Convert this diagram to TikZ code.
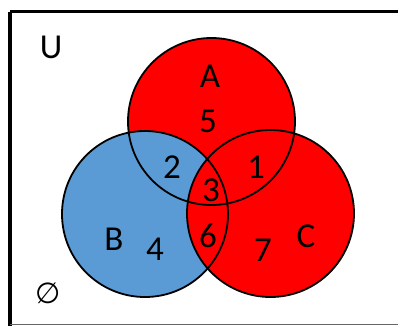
\documentclass[tikz,border=0pt]{standalone}
\usepackage{fontspec}
\setmainfont{Carlito}
\newfontfamily\symfont{DejaVu Sans}
\definecolor{setred}{HTML}{FF0000}
\definecolor{setblue}{HTML}{5B9BD5}
\begin{document}
\begin{tikzpicture}[x=1pt,y=-1pt,
  setline/.style={draw=black,line width=1.8pt},
  lbl/.style={inner sep=0pt,font=\fontsize{35}{35}\selectfont}]
\useasboundingbox (0,0) rectangle (398,325);
\begin{scope}
\clip (0,0) rectangle (398,325);
% universe frame
\draw[line width=3.5pt] (10,11.5) -- (402,11.5);
\draw[line width=3.5pt] (10,11.5) -- (10,330);
\draw[line width=1.5pt,black!60] (10,324.5) -- (402,324.5);
\end{scope}
% set regions: A first, then B, then C on top
\coordinate (cA) at (211.5,121.5);
\coordinate (cB) at (145,214);
\coordinate (cC) at (270.5,213.5);
\fill[setred] (cA) circle (83.5);
\fill[setblue] (cB) circle (83);
\fill[setred] (cC) circle (83.5);
\draw[setline] (cA) circle (83.5);
\draw[setline] (cB) circle (83);
\draw[setline] (cC) circle (83.5);
% labels
\node[lbl] (u) at (51,47) {U};
\node[lbl] (a) at (210,76) {A};
\node[lbl] (b) at (114,239) {B};
\node[lbl] (c) at (306,236) {C};
\node[lbl] (n5) at (208,121) {5};
\node[lbl] (n2) at (172,167.5) {2};
\node[lbl] (n1) at (256,167.5) {1};
\node[lbl] (n3) at (211,190.5) {3};
\node[lbl] (n6) at (208,236) {6};
\node[lbl] (n4) at (155,249) {4};
\node[lbl] (n7) at (263,250) {7};
\node[inner sep=0pt,font=\symfont\fontsize{29}{29}\selectfont] (empty) at (48,293.5) {∅};
\end{tikzpicture}
\end{document}
